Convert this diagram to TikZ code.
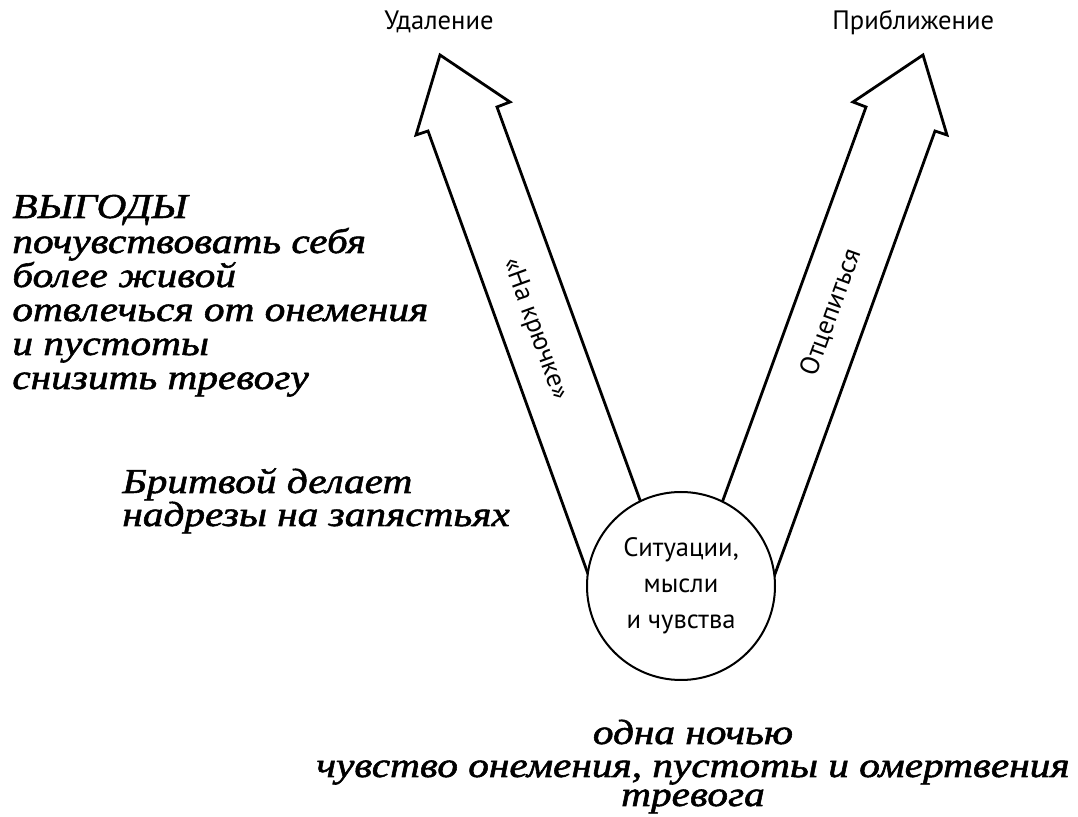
\documentclass[tikz,border=0pt]{standalone}
\usepackage{fontspec}
\newfontfamily\labfont{PT Sans}
\newfontfamily\handfont[FakeStretch=1.18, FakeBold=1.6]{Liberation Serif}
\begin{document}
\begin{tikzpicture}[x=0.5pt,y=-0.5pt,
  outline/.style={draw=black, line width=1.4pt, line join=miter, fill=white},
  lab/.style={font=\labfont\fontsize{13.3}{18}\selectfont, inner sep=0pt},
  hand/.style={font=\handfont\itshape\fontsize{17.5}{17.5}\selectfont, inner sep=0pt},
  handline/.style={hand, anchor=base west},
  handmid/.style={hand, anchor=base}]
\useasboundingbox (0,0) rectangle (1078,817);

% the two wide arrows leaving the circle
\draw[outline] (601,610) -- (428,131) -- (416,135) -- (440,55) -- (510,102)
  -- (497,107) -- (680,610) -- cycle;
\draw[outline] (762,610) -- (935,131) -- (947,135) -- (923,55) -- (853,102)
  -- (866,107) -- (683,610) -- cycle;

% central circle
\node[circle, draw, line width=1pt, fill=white, minimum size=94pt, inner sep=0pt,
  align=center, lab] (sit) at (681,586) {Ситуации,\\мысли\\и чувства};

% arrow captions
\node[lab, anchor=base west] (away) at (384,30) {Удаление};
\node[lab, anchor=base west] (toward) at (832,30) {Приближение};
\node[lab, rotate=-70] (hooked) at (535,329) {«На крючке»};
\node[lab, rotate=70] (unhook) at (831,312) {Отцепиться};

% benefits
\node[handline] (b0) at (12,218) {ВЫГОДЫ};
\node[handline] (b1) at (12,253) {почувствовать себя};
\node[handline] (b2) at (12,287) {более живой};
\node[handline] (b3) at (12,321) {отвлечься от онемения};
\node[handline] (b4) at (12,355) {и пустоты};
\node[handline] (b5) at (12,389) {снизить тревогу};

% behaviour
\node[handline] (act1) at (122,493) {Бритвой делает};
\node[handline] (act2) at (122,526) {надрезы на запястьях};

% triggers
\node[handmid] (t1) at (693,744) {одна ночью};
\node[handmid] (t2) at (693,777) {чувство онемения, пустоты и омертвения};
\node[handmid] (t3) at (693,806) {тревога};
\end{tikzpicture}
\end{document}
